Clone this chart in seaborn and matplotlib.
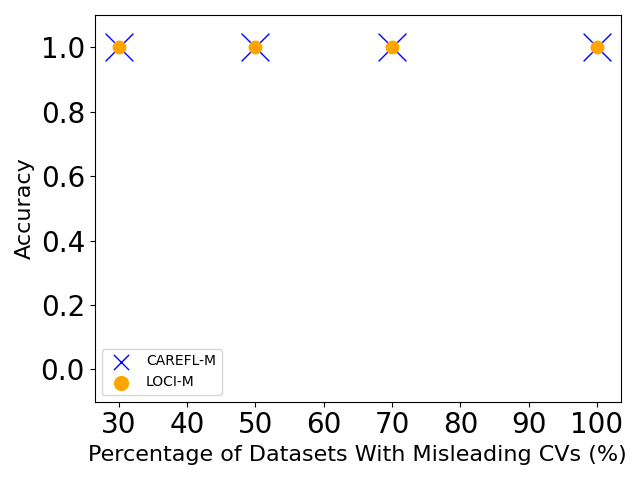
import matplotlib
matplotlib.use("Agg")
import matplotlib.pyplot as plt
import seaborn as sns
import pandas as pd

percentages = [30, 50, 70, 100]
carefl_acc = [1.0, 1.0, 1.0, 1.0]
loci_acc = [1.0, 1.0, 1.0, 1.0]
x_ticks = [30, 40, 50, 60, 70, 80, 90, 100]
y_ticks = [0.0, 0.2, 0.4, 0.6, 0.8, 1.0]

df_c = pd.DataFrame({"x": percentages, "y": carefl_acc})
df_l = pd.DataFrame({"x": percentages, "y": loci_acc})

fig, ax = plt.subplots(figsize=(6.4, 4.8), dpi=100)
sns.scatterplot(data=df_c, x="x", y="y", marker="x", s=400, color="blue",
                linewidth=1.0, label="CAREFL-M", ax=ax, zorder=2)
sns.scatterplot(data=df_l, x="x", y="y", marker="o", s=100, color="orange",
                edgecolor="orange", linewidth=0, label="LOCI-M", ax=ax, zorder=3)
ax.set_ylim(-0.1, 1.1)
ax.set_xlim(26.5, 103.5)
ax.set_xticks(x_ticks)
ax.set_yticks(y_ticks)
ax.set_xlabel("Percentage of Datasets With Misleading CVs (%)", fontsize=16)
ax.set_ylabel("Accuracy", fontsize=16)
ax.tick_params(axis="both", labelsize=20)
leg = ax.legend(loc="lower left", fontsize=10)
for h in leg.legend_handles:
    h.set_sizes([120])
fig.tight_layout()
fig.savefig("out.png", dpi=100)
